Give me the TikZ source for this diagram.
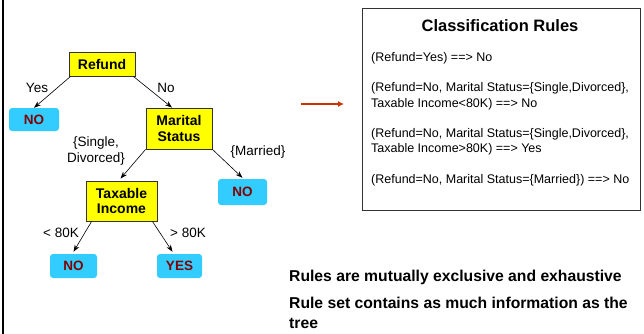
\documentclass[tikz,border=0pt]{standalone}
\usepackage{fontspec}
\setmainfont{Liberation Sans}
\usetikzlibrary{arrows.meta}
\definecolor{yel}{HTML}{FFFF00}
\definecolor{cyanbox}{HTML}{33CCFF}
\definecolor{darkred}{HTML}{800000}
\definecolor{arrowred}{HTML}{CC3300}
\begin{document}
\begin{tikzpicture}[x=1pt,y=-1pt,
 dec/.style={draw=black!80, fill=yel, line width=0.8pt, inner sep=0pt, align=center, font=\fontsize{14}{15.5}\selectfont\bfseries},
 leaf/.style={fill=cyanbox, rounded corners=3pt, inner sep=0pt, text=darkred, font=\fontsize{13.5}{15}\selectfont\bfseries},
 lab/.style={font=\fontsize{13.5}{15.5}\selectfont, inner sep=0pt, align=center},
 edge/.style={-{Stealth[length=7pt,width=5pt]}, line width=0.6pt},
 rule/.style={font=\fontsize{12.5}{15.5}\selectfont, anchor=west, inner sep=0pt, align=left},
 bigtext/.style={font=\fontsize{15.7}{20}\selectfont\bfseries, anchor=west, inner sep=0pt, align=left},
]
\useasboundingbox (0,0) rectangle (644,334);
\draw[line width=2pt] (3,0) -- (3,334);
% tree
\node[dec, minimum width=66, minimum height=24] (refund) at (102,64) {Refund};
\node[leaf, minimum width=50, minimum height=23] (no1) at (34,119.5) {NO};
\node[dec, minimum width=66, minimum height=41] (mar) at (179,128.5) {Marital\\Status};
\node[dec, minimum width=71, minimum height=40] (tax) at (121.5,201) {Taxable\\Income};
\node[leaf, minimum width=49, minimum height=26] (no2) at (242.5,192) {NO};
\node[leaf, minimum width=47, minimum height=24] (no3) at (73.5,266) {NO};
\node[leaf, minimum width=45, minimum height=24] (yes) at (179.5,266) {YES};
\draw[edge] ([xshift=2pt]refund.south west) -- (no1.north);
\draw[edge] ([xshift=-2pt]refund.south east) -- ([xshift=-7pt]mar.north);
\draw[edge] (mar.south west) -- ([xshift=-1pt,yshift=2pt]tax.north);
\draw[edge] (mar.south east) -- ([yshift=1pt]no2.north);
\draw[edge] ([xshift=6pt]tax.south west) -- ([yshift=2pt]no3.north);
\draw[edge] ([xshift=-5pt]tax.south east) -- ([xshift=-7pt,yshift=2pt]yes.north);
\node[lab] (lyes) at (37,88) {Yes};
\node[lab] (lno) at (166,88) {No};
\node[lab] (lsd) at (96,151) {\{Single,\\Divorced\}};
\node[lab] (lmar) at (258,152) {\{Married\}};
\node[lab] (llt) at (61,233) {< 80K};
\node[lab] (lgt) at (188,233) {> 80K};
% arrow
\coordinate (a1) at (301,104);
\coordinate (a2) at (344,104);
\draw[arrowred, line width=1.8pt, -{Latex[length=6pt,width=6pt]}] (a1) -- (a2);
% rules box
\node[draw=black!80, line width=0.9pt, minimum width=278, minimum height=202, inner sep=0pt] (rules) at (501,109) {};
\node[font=\fontsize{16.5}{18}\selectfont\bfseries, inner sep=0pt] (title) at (500,26) {Classification Rules};
\node[rule] (r1) at (371,58) {(Refund=Yes) ==> No};
\node[rule] (r2) at (371,96.5) {(Refund=No, Marital Status=\{Single,Divorced\},\\Taxable Income<80K) ==> No};
\node[rule] (r3) at (371,142) {(Refund=No, Marital Status=\{Single,Divorced\},\\Taxable Income>80K) ==> Yes};
\node[rule] (r4) at (371,180) {(Refund=No, Marital Status=\{Married\}) ==> No};
% bottom text
\node[bigtext] (b1) at (289,277) {Rules are mutually exclusive and exhaustive};
\node[bigtext] (b2) at (289,313) {Rule set contains as much information as the\\tree};
\end{tikzpicture}
\end{document}
